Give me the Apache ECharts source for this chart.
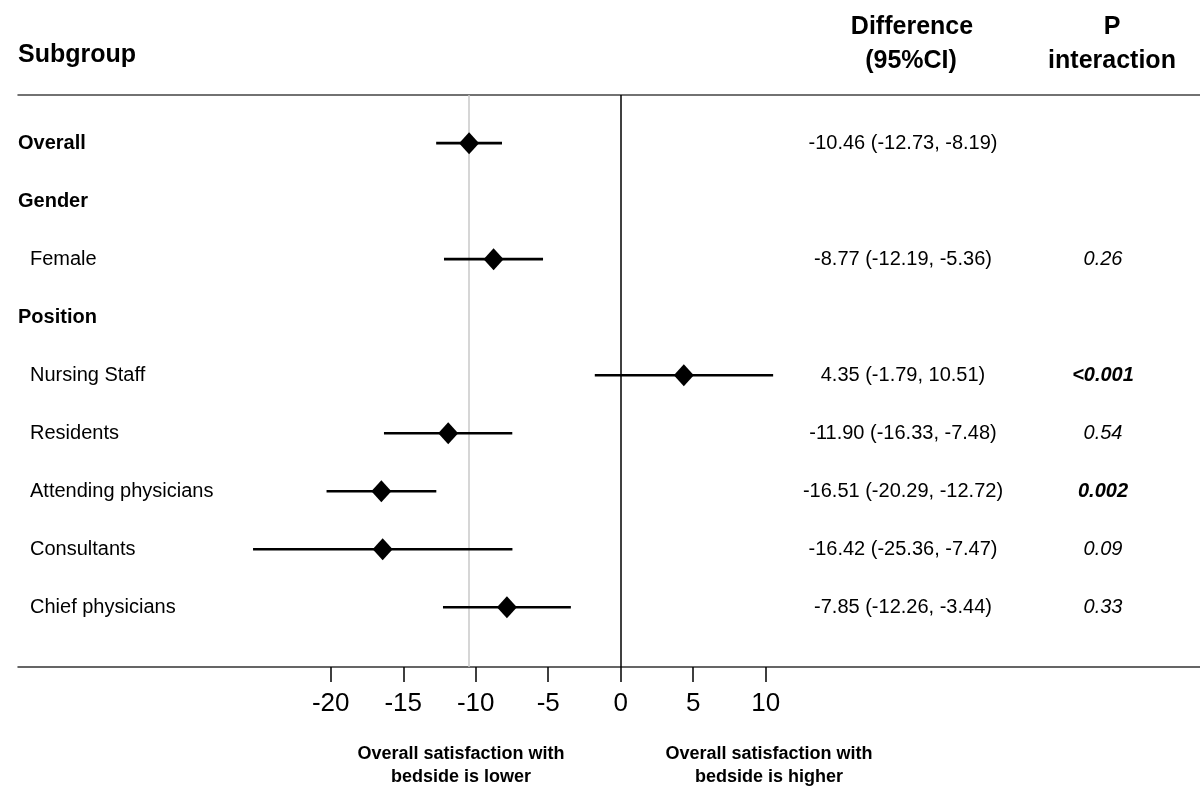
<!DOCTYPE html>
<html>
<head>
<meta charset="utf-8">
<script src="https://cdn.jsdelivr.net/npm/echarts@6/dist/echarts.min.js"></script>
<style>
html,body{margin:0;padding:0;background:#fff;}
#chart{width:1200px;height:802px;}
</style>
</head>
<body>
<div id="chart"></div>
<script>
// ---- data ----
const rowLabels = ['Overall', 'Gender', 'Female', 'Position', 'Nursing Staff', 'Residents', 'Attending physicians', 'Consultants', 'Chief physicians'];
const rowIsHeader = [true, true, false, true, false, false, false, false, false];
const estimate = [-10.46, null, -8.77, null, 4.35, -11.90, -16.51, -16.42, -7.85];
const ciLower = [-12.73, null, -12.19, null, -1.79, -16.33, -20.29, -25.36, -12.26];
const ciUpper = [-8.19, null, -5.36, null, 10.51, -7.48, -12.72, -7.47, -3.44];
const pInteraction = ['', '', '0.26', '', '<0.001', '0.54', '0.002', '0.09', '0.33'];
const pSignificant = [false, false, false, false, true, false, true, false, false];
const xTickValues = [-20, -15, -10, -5, 0, 5, 10];

const FONT = '"Liberation Sans", Arial, sans-serif';

const chart = echarts.init(document.getElementById('chart'), null, {renderer: 'canvas'});

const rowIdx = rowLabels.map((_, i) => i);
const ciData = [];
const pointData = [];
rowIdx.forEach(i => {
  if (estimate[i] !== null) {
    ciData.push([ciLower[i], ciUpper[i], i]);
    pointData.push([estimate[i], i]);
  }
});
const diffText = rowIdx.map(i => estimate[i] === null ? '' :
  estimate[i].toFixed(2) + ' (' + ciLower[i].toFixed(2) + ', ' + ciUpper[i].toFixed(2) + ')');

function textSeries(getX, getText, getFont, align) {
  return {
    type: 'custom',
    coordinateSystem: 'cartesian2d',
    xAxisIndex: 0, yAxisIndex: 0,
    clip: false,
    silent: true,
    data: rowIdx.map(i => [0, i]),
    encode: {x: 0, y: 1},
    renderItem: function (params, api) {
      const i = api.value(1);
      const y = api.coord([0, i])[1];
      return {
        type: 'text',
        style: {
          x: getX(i), y: y,
          text: getText(i),
          font: getFont(i),
          fill: '#000',
          align: align,
          verticalAlign: 'middle'
        }
      };
    }
  };
}

const option = {
  animation: false,
  backgroundColor: '#fff',
  grid: {left: 18, right: 0, top: 95, bottom: 135},
  xAxis: [{
    type: 'value',
    min: -41.57, max: 39.95,
    position: 'bottom',
    axisLine: {show: true, onZero: false, lineStyle: {color: '#333', width: 1.5}},
    axisTick: {show: true, customValues: xTickValues, length: 15, lineStyle: {color: '#000', width: 1.5}},
    axisLabel: {show: true, customValues: xTickValues, margin: 24, fontSize: 26, color: '#000', fontFamily: FONT},
    splitLine: {show: false}
  }, {
    type: 'value',
    min: -41.57, max: 39.95,
    position: 'top',
    axisLine: {show: true, onZero: false, lineStyle: {color: '#444', width: 1.5}},
    axisTick: {show: false},
    axisLabel: {show: false},
    splitLine: {show: false}
  }],
  yAxis: {
    type: 'value',
    inverse: true,
    min: -0.83, max: 9.03,
    show: false
  },
  graphic: [
    {type: 'text', left: 18, top: 43, style: {text: 'Subgroup', font: 'bold 25px ' + FONT, fill: '#000'}},
    {type: 'text', x: 912, y: 27, style: {text: 'Difference', font: 'bold 25px ' + FONT, fill: '#000', align: 'center', verticalAlign: 'middle'}},
    {type: 'text', x: 911, y: 61, style: {text: '(95%CI)', font: 'bold 25px ' + FONT, fill: '#000', align: 'center', verticalAlign: 'middle'}},
    {type: 'text', x: 1112, y: 27, style: {text: 'P', font: 'bold 25px ' + FONT, fill: '#000', align: 'center', verticalAlign: 'middle'}},
    {type: 'text', x: 1112, y: 61, style: {text: 'interaction', font: 'bold 25px ' + FONT, fill: '#000', align: 'center', verticalAlign: 'middle'}},
    {type: 'text', x: 461, y: 754, style: {text: 'Overall satisfaction with', font: 'bold 18px ' + FONT, fill: '#000', align: 'center', verticalAlign: 'middle'}},
    {type: 'text', x: 461, y: 777, style: {text: 'bedside is lower', font: 'bold 18px ' + FONT, fill: '#000', align: 'center', verticalAlign: 'middle'}},
    {type: 'text', x: 769, y: 754, style: {text: 'Overall satisfaction with', font: 'bold 18px ' + FONT, fill: '#000', align: 'center', verticalAlign: 'middle'}},
    {type: 'text', x: 769, y: 777, style: {text: 'bedside is higher', font: 'bold 18px ' + FONT, fill: '#000', align: 'center', verticalAlign: 'middle'}}
  ],
  series: [
    {
      type: 'custom',
      name: 'CI',
      clip: false,
      data: ciData,
      encode: {x: [0, 1], y: 2},
      renderItem: function (params, api) {
        const a = api.coord([api.value(0), api.value(2)]);
        const b = api.coord([api.value(1), api.value(2)]);
        return {
          type: 'line',
          shape: {x1: a[0], y1: a[1], x2: b[0], y2: b[1]},
          style: {stroke: '#000', lineWidth: 2.6}
        };
      },
      markLine: {
        silent: true,
        symbol: 'none',
        label: {show: false},
        z: 1,
        data: [
          {xAxis: estimate[0], lineStyle: {color: '#c8c8c8', width: 1.5, type: 'solid'}},
          {xAxis: 0, lineStyle: {color: '#000', width: 1.5, type: 'solid'}}
        ]
      },
      z: 2
    },
    {
      type: 'scatter',
      name: 'Estimate',
      data: pointData,
      symbol: 'diamond',
      symbolSize: [20, 22],
      itemStyle: {color: '#000', opacity: 1},
      z: 10
    },
    textSeries(i => rowIsHeader[i] ? 18 : 30, i => rowLabels[i], i => (rowIsHeader[i] ? 'bold ' : '') + '20px ' + FONT, 'left'),
    textSeries(i => 903, i => diffText[i], i => '20px ' + FONT, 'center'),
    textSeries(i => 1103, i => pInteraction[i], i => (pSignificant[i] ? 'italic bold ' : 'italic ') + '20px ' + FONT, 'center')
  ]
};
chart.setOption(option);
</script>
</body>
</html>
